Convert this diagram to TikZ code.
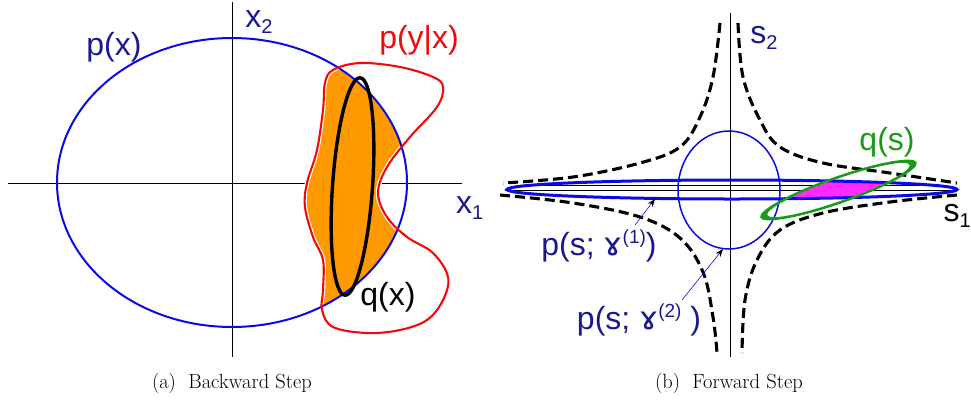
\documentclass[tikz,border=0pt]{standalone}
\usepackage{fontspec}
\newfontfamily\lab{Liberation Sans}
\newfontfamily\dv{DejaVu Sans}
\usetikzlibrary{arrows.meta}
\definecolor{navy}{HTML}{1A1A8C}
\definecolor{bblue}{HTML}{0A0AE6}
\definecolor{rred}{HTML}{F00A0A}
\definecolor{orng}{HTML}{FF9900}
\definecolor{grn}{HTML}{1A991A}
\definecolor{mag}{HTML}{FF2BFF}
\tikzset{
  lbl/.style={font=\lab\fontsize{32}{36}\selectfont, inner sep=0pt},
  axis/.style={black, line width=0.8pt},
  dashcurve/.style={black, line width=3.1pt, dash pattern=on 10pt off 5pt},
  ptr/.style={bblue, line width=0.6pt, -{Stealth[black,length=8pt,width=6pt]}},
  captxt/.style={font=\fontsize{20.5}{24}\selectfont, inner sep=0pt}
}
\newcommand{\sbs}[1]{{\fontsize{20}{20}\selectfont\raisebox{-6pt}{#1}}}
\newcommand{\sps}[1]{{\fontsize{19}{19}\selectfont\raisebox{12pt}{#1}}}
\begin{document}
\begin{tikzpicture}[x=1pt,y=-1pt]
\useasboundingbox (0,0) rectangle (971,405);
% ---------------- (a) ----------------
\coordinate (pc) at (232,182.5);
\coordinate (qc) at (352.5,186.5);
\draw[axis] (8,183) -- (462,183);
\draw[axis] (232,2) -- (232,357);
\def\blob{plot[smooth cycle, tension=0.6] coordinates {(325,83) (333,70) (360,63) (400,67) (433,77) (443,87) (437,107) (410,137) (387,167) (378,193) (387,217) (407,237) (433,253) (448,277) (443,300) (427,320) (400,330) (367,333) (333,327) (322,310) (323,290) (323,260) (313,237) (305,207) (307,183) (317,150) (323,110)}}
\begin{scope}
  \clip (pc) ellipse [x radius=175, y radius=144.5];
  \fill[orng] \blob;
  \draw[white, line width=4.4pt] \blob;
\end{scope}
\draw[bblue, line width=2pt] (pc) ellipse [x radius=175, y radius=144.5];
\draw[rred, line width=2.1pt] \blob;
\draw[black, line width=3.4pt, rotate around={-4:(qc)}] (qc) ellipse [x radius=20, y radius=109];
\node[lbl, text=navy] (px) at (114,47) {p(x)};
\node[lbl, text=navy] (x2) at (259,22) {x\sbs{2}};
\node[lbl, text=rred] (pyx) at (419,40) {p(y|x)};
\node[lbl, text=navy, anchor=west] (x1) at (456,208) {x\sbs{1}};
\node[lbl, text=black] (qx) at (388,297) {q(x)};
\node[captxt] (capa) at (232,383) {(a)\ \ Backward Step};
% ---------------- (b) ----------------
\coordinate (fc) at (732,189.5);
\coordinate (cc) at (729,190);
\coordinate (gq) at (838.5,190);
\draw[axis] (730,13) -- (730,357);
\draw[axis] (505,190) -- (957,190);
\draw[axis] (545,185.5) -- (935,185.5);
\draw[dashcurve] plot[smooth, tension=0.6] coordinates {(720,23) (713,77) (700,117) (680,147) (640,163) (573,177) (503,183)};
\draw[dashcurve] plot[smooth, tension=0.6] coordinates {(738,23) (743,77) (760,120) (780,147) (823,163) (890,173) (957,183)};
\draw[dashcurve] plot[smooth, tension=0.6] coordinates {(500,195) (573,203) (640,217) (680,238) (703,272) (713,317) (717,353)};
\draw[dashcurve] plot[smooth, tension=0.6] coordinates {(957,195) (890,202) (823,213) (780,230) (757,260) (745,300) (742,353)};
\draw[bblue, line width=1.5pt] (cc) ellipse [x radius=51, y radius=59];
\begin{scope}
  \clip[rotate around={19.4:(gq)}] (gq) ellipse [x radius=76, y radius=11];
  \fill[mag] (fc) ellipse [x radius=225, y radius=9.5];
\end{scope}
\draw[bblue, line width=3pt] (fc) ellipse [x radius=225, y radius=9.5];
\fill[grn, even odd rule, rotate around={19.4:(gq)}] (gq) ellipse [x radius=83, y radius=13.5] (gq) ellipse [x radius=75.5, y radius=11];
\node[lbl, text=navy] (s2) at (764,38) {s\sbs{2}};
\node[lbl, anchor=east, text=black] (s1) at (971,216) {s\sbs{1}};
\node[lbl, text=grn] (qs) at (887,142) {q(s)};
\node[lbl, text=navy] (ps1) at (599,246) {p(s; {\dv ɤ}\sps{(1)})};
\node[lbl, text=navy] (ps2) at (639,320) {p(s; {\dv ɤ}\sps{(2)} )};
\coordinate (a1s) at (635,225);
\coordinate (a1e) at (655,199);
\coordinate (a2s) at (682,300);
\coordinate (a2e) at (723,249);
\draw[ptr] (a1s) -- (a1e);
\draw[ptr] (a2s) -- (a2e);
\node[captxt] (capb) at (729,383) {(b)\ \ Forward Step};
\end{tikzpicture}
\end{document}
